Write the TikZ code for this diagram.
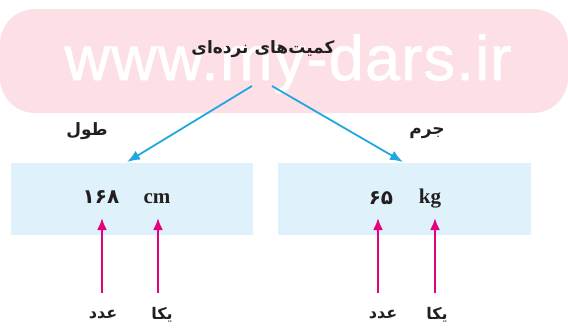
\documentclass[tikz,border=0pt]{standalone}
\usepackage{fontspec}
\setmainfont{Liberation Serif}
\newfontfamily\arabicfont[Script=Arabic]{DejaVu Sans}
\newfontfamily\wmfont[LetterSpace=2,FakeBold=1.2]{Liberation Sans}
\TeXXeTstate=1
\usetikzlibrary{arrows.meta}
\definecolor{pinkbg}{HTML}{FDE0E6}
\definecolor{boxbg}{HTML}{DFF2FB}
\definecolor{bluearr}{HTML}{1FA7E0}
\definecolor{magarr}{HTML}{E5007D}
\definecolor{ink}{HTML}{231F20}
\tikzset{
  fa/.style={text=ink, inner sep=0pt, font=\arabicfont\bfseries\fontsize{#1}{#1}\selectfont},
  unitlbl/.style={text=ink, inner sep=0pt, font=\bfseries\fontsize{21}{21}\selectfont},
  qbox/.style={fill=boxbg, draw=none, inner sep=0pt, minimum height=72pt},
  bluearrow/.style={draw=bluearr, line width=1.8pt, -{Latex[length=13pt,width=10pt]}},
  magarrow/.style={draw=magarr, line width=2.2pt, -{Latex[length=12pt,width=10pt]}},
}
\begin{document}
\begin{tikzpicture}[x=1pt,y=-1pt]
\useasboundingbox (0,0) rectangle (568,327);
% background band with watermark
\fill[pinkbg, rounded corners=35pt] (0,9) rectangle (568,113);
\node[text=white, inner sep=0pt, anchor=base, font=\wmfont\fontsize{63}{63}\selectfont] (wm) at (288,80) {www.my-dars.ir};
% title
\node[fa=17] (title) at (263,49) {\beginR کمیت‌های نرده‌ای\endR};
% boxes
\node[qbox, minimum width=242pt] (box1) at (132,199) {};
\node[qbox, minimum width=253pt] (box2) at (404.5,199) {};
% quantity names
\node[fa=17] (len) at (87,131) {\beginR طول\endR};
\node[fa=17] (mass) at (427,133) {\beginR جرم\endR};
% values and units
\node[fa=20] (n1) at (101,197) {۱۶۸};
\node[unitlbl] (u1) at (157,199) {cm};
\node[fa=20] (n2) at (381,198) {۶۵};
\node[unitlbl] (u2) at (430,199) {kg};
% bottom labels
\node[fa=16] (l1) at (103,315) {\beginR عدد\endR};
\node[fa=16] (l2) at (162,315) {\beginR یکا\endR};
\node[fa=16] (l3) at (383,315) {\beginR عدد\endR};
\node[fa=16] (l4) at (437,315) {\beginR یکا\endR};
% blue arrows
\coordinate (s1) at (252,86);
\coordinate (s2) at (272,86);
\coordinate (e1) at (127,162);
\coordinate (e2) at (403,162);
\draw[bluearrow] (s1) -- (e1);
\draw[bluearrow] (s2) -- (e2);
% magenta arrows
\coordinate (m1s) at (102,293); \coordinate (m1e) at (102,218);
\coordinate (m2s) at (158,293); \coordinate (m2e) at (158,218);
\coordinate (m3s) at (378,293); \coordinate (m3e) at (378,218);
\coordinate (m4s) at (435,293); \coordinate (m4e) at (435,218);
\draw[magarrow] (m1s) -- (m1e);
\draw[magarrow] (m2s) -- (m2e);
\draw[magarrow] (m3s) -- (m3e);
\draw[magarrow] (m4s) -- (m4e);
\end{tikzpicture}
\end{document}
